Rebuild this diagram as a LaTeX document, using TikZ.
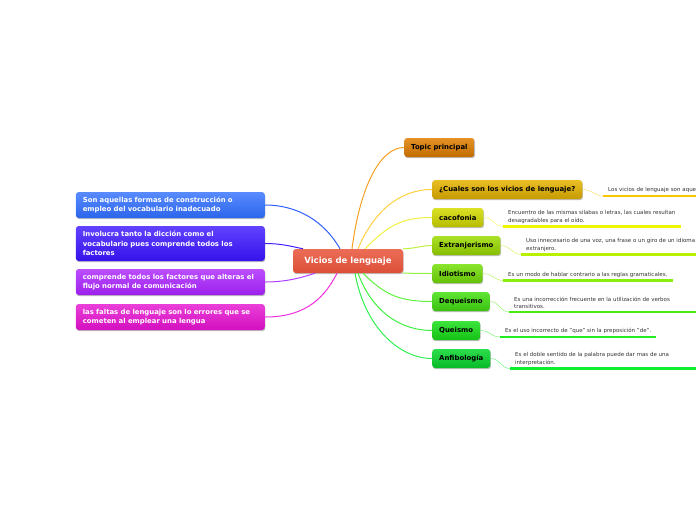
\documentclass[tikz,border=0pt]{standalone}
\usepackage{fontspec}
\setmainfont{DejaVu Sans}
\usetikzlibrary{shadows}
\tikzset{
  base/.style={rounded corners=3pt, drop shadow={shadow xshift=0.6pt, shadow yshift=-1.2pt, opacity=0.25, fill=black}},
  central/.style={base, top color=#1!85!white, bottom color=#1!95!black, minimum width=110, minimum height=24, inner xsep=0, inner ysep=0, text=white, font=\fontsize{8.5}{10}\selectfont\bfseries},
  leftbox/.style={base, top color=#1!80!white, bottom color=#1!92!black, text width=175, align=left, inner xsep=7, inner ysep=3, text=white, font=\fontsize{6.9}{9.3}\selectfont\bfseries, anchor=east},
  rightbox/.style={base, top color=#1!85!white, bottom color=#1!86!black, minimum height=19, inner xsep=7, inner ysep=0, text=black, font=\fontsize{6.9}{8}\selectfont\bfseries, anchor=west},
  leaf/.style={anchor=south west, align=left, inner xsep=5, inner ysep=3, text=black!80, font=\fontsize{5.5}{7.2}\selectfont},
  uline/.style={line width=2.4pt, draw=#1},
  conn/.style={line width=1pt, draw=#1},
  thin/.style={line width=0.5pt, draw=#1!60!white},
}
\definecolor{cred}{HTML}{E8533A}
\definecolor{cblue}{HTML}{2F6EFF}
\definecolor{cviolet}{HTML}{3A14FF}
\definecolor{cpurple}{HTML}{AA22FF}
\definecolor{cmagenta}{HTML}{E510D0}
\definecolor{corange}{HTML}{E07E00}
\definecolor{cgold}{HTML}{E6B400}
\definecolor{cyel}{HTML}{D4DC00}
\definecolor{clime}{HTML}{9CDC00}
\definecolor{cgr1}{HTML}{74E008}
\definecolor{cgr2}{HTML}{44E010}
\definecolor{cgr3}{HTML}{18E018}
\definecolor{cgr4}{HTML}{08D82C}
\definecolor{lorange}{HTML}{F5A020}
\definecolor{lgold}{HTML}{FFD040}
\definecolor{lyel}{HTML}{F0F040}
\definecolor{llime}{HTML}{C0F040}
\definecolor{lgr1}{HTML}{90F040}
\definecolor{lgr2}{HTML}{60F040}
\definecolor{lgr3}{HTML}{40F040}
\definecolor{lgr4}{HTML}{30F050}
\definecolor{ublue}{HTML}{3060FF}
\definecolor{uviolet}{HTML}{4020FF}
\definecolor{upurple}{HTML}{B040FF}
\definecolor{umagenta}{HTML}{F030E0}
\definecolor{ngold}{HTML}{F5C800}
\definecolor{nyel}{HTML}{EEF500}
\definecolor{nlime}{HTML}{B8F000}
\definecolor{ngr1}{HTML}{88EE10}
\definecolor{ngr2}{HTML}{44EE10}
\definecolor{ngr3}{HTML}{20EE20}
\definecolor{ngr4}{HTML}{10EE30}
\begin{document}
\begin{tikzpicture}[x=1pt,y=-1pt]
\useasboundingbox (0,0) rectangle (696,520);
% central
\node[central=cred] (c) at (348,261) {Vicios de lenguaje};
% left nodes
\node[leftbox=cblue, minimum height=26] (l1) at (265,205) {Son aquellas formas de construcción o\\empleo del vocabulario inadecuado};
\node[leftbox=cviolet, minimum height=35] (l2) at (265,243.5) {Involucra tanto la dicción como el\\vocabulario pues comprende todos los\\factores};
\node[leftbox=cpurple, minimum height=26] (l3) at (265,282) {comprende todos los factores que alteras el\\flujo normal de comunicación};
\node[leftbox=cmagenta, minimum height=26] (l4) at (265,317) {las faltas de lenguaje son lo errores que se\\cometen al emplear una lengua};
% right nodes
\node[rightbox=corange] (t) at (404,147.5) {Topic principal};
\node[rightbox=cgold] (r1) at (432,189.5) {¿Cuales son los vicios de lenguaje?};
\node[rightbox=cyel] (r2) at (432,217.5) {cacofonia};
\node[rightbox=clime] (r3) at (432,245.5) {Extranjerismo};
\node[rightbox=cgr1] (r4) at (432,273.5) {Idiotismo};
\node[rightbox=cgr2] (r5) at (432,301.5) {Dequeismo};
\node[rightbox=cgr3] (r6) at (432,330.5) {Queismo};
\node[rightbox=cgr4] (r7) at (432,358.5) {Anfibología};
% leaves
\node[leaf, text width=92, align=left] (f1) at (603,196) {Los vicios de lenguaje son aque};
\node[leaf] (f2) at (503,226.5) {Encuentro de las mismas silabas o letras, las cuales resultan\\desagradables para el oído.};
\node[leaf] (f3) at (521,254.5) {Uso innecesario de una voz, una frase o un giro de un idioma\\extranjero.};
\node[leaf] (f4) at (503,280.5) {Es un modo de hablar contrario a las reglas gramaticales.};
\node[leaf] (f5) at (509,312) {Es una incorrección frecuente en la utilización de verbos\\transitivos.};
\node[leaf] (f6) at (500,337) {Es el uso incorrecto de "que" sin la preposición "de".};
\node[leaf] (f7) at (510,368.5) {Es el doble sentido de la palabra puede dar mas de una\\interpretación.};
% underlines
\draw[uline=ngold] (f1.south west) -- ++(100,0);
\draw[uline=nyel] (f2.south west) -- (f2.south east);
\draw[uline=nlime] (f3.south west) -- ++(190,0);
\draw[uline=ngr1] (f4.south west) -- (f4.south east);
\draw[uline=ngr2] (f5.south west) -- ++(190,0);
\draw[uline=ngr3] (f6.south west) -- (f6.south east);
\draw[uline=ngr4] (f7.south west) -- ++(190,0);
% leaf connectors
\draw[thin=ngold] (r1.east) .. controls +(10,0) and +(-9,0) .. (f1.south west);
\draw[thin=nyel] (r2.east) .. controls +(10,0) and +(-9,0) .. (f2.south west);
\draw[thin=nlime] (r3.east) .. controls +(10,0) and +(-9,0) .. (f3.south west);
\draw[thin=ngr1] (r4.east) .. controls +(10,0) and +(-9,0) .. (f4.south west);
\draw[thin=ngr2] (r5.east) .. controls +(10,0) and +(-9,0) .. (f5.south west);
\draw[thin=ngr3] (r6.east) .. controls +(10,0) and +(-9,0) .. (f6.south west);
\draw[thin=ngr4] (r7.east) .. controls +(10,0) and +(-9,0) .. (f7.south west);
% main connectors right
\draw[conn=lorange] ([xshift=4]c.north) .. controls +(8,-62) and +(-24,0) .. (t.west);
\draw[conn=lgold] ([xshift=10]c.north) .. controls +(16,-38) and +(-32,0) .. (r1.west);
\draw[conn=lyel] ([xshift=17]c.north) .. controls +(22,-22) and +(-32,0) .. (r2.west);
\draw[conn=llime] (c.north east) .. controls +(10,0) and +(-10,0) .. (r3.west);
\draw[conn=lgr1] (c.south east) .. controls +(10,0) and +(-10,0) .. (r4.west);
\draw[conn=lgr2] ([xshift=15]c.south) .. controls +(22,22) and +(-32,0) .. (r5.west);
\draw[conn=lgr3] ([xshift=10]c.south) .. controls +(14,38) and +(-32,0) .. (r6.west);
\draw[conn=lgr4] ([xshift=7]c.south) .. controls +(10,55) and +(-32,0) .. (r7.west);
% left connectors
\draw[conn=ublue] ([xshift=-8]c.north) .. controls +(-16,-28) and +(32,0) .. (l1.east);
\draw[conn=uviolet] ([xshift=-45]c.north) .. controls +(-14,-3) and +(15,0) .. (l2.east);
\draw[conn=upurple] ([xshift=-33]c.south) .. controls +(-15,5) and +(20,0) .. (l3.east);
\draw[conn=umagenta] ([xshift=-11]c.south) .. controls +(-15,30) and +(35,0) .. (l4.east);
\end{tikzpicture}
\end{document}
